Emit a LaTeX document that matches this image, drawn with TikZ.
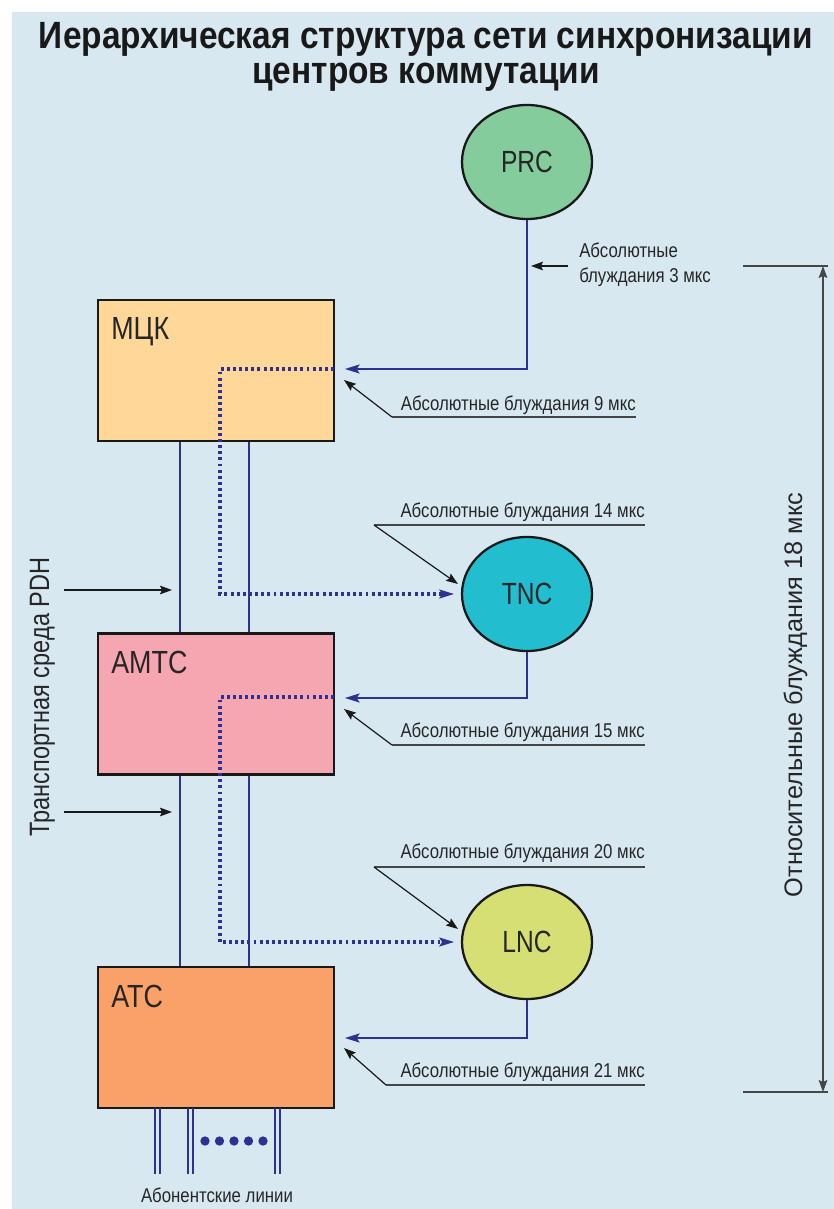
\documentclass[tikz,border=0pt]{standalone}
\usepackage{fontspec}
\setmainfont{Liberation Sans}[FakeStretch=0.84]
\newfontfamily\titlefont{Liberation Sans}[FakeStretch=0.88]
\newfontfamily\boxfont{Liberation Sans}[FakeStretch=0.84]
\newfontfamily\nodefont{Liberation Sans}[FakeStretch=0.80]
\newfontfamily\widefont{Liberation Sans}
\usetikzlibrary{arrows.meta,calc,shapes.geometric}
\definecolor{bgblue}{RGB}{216,232,240}
\definecolor{lineblue}{RGB}{46,49,146}
\definecolor{prcgreen}{RGB}{132,204,156}
\definecolor{tnccyan}{RGB}{34,190,208}
\definecolor{lncyellow}{RGB}{214,223,115}
\definecolor{mckfill}{RGB}{255,216,153}
\definecolor{amtcfill}{RGB}{246,166,176}
\definecolor{atcfill}{RGB}{249,161,104}
\definecolor{leadgray}{RGB}{70,70,70}
\tikzset{
  centerbox/.style={draw=black!90, line width=2.2pt, minimum width=177pt, minimum height=105.75pt, inner sep=0pt},
  syncnode/.style={ellipse, draw=black!90, line width=1.7pt, minimum width=97.5pt, minimum height=85.5pt, inner sep=0pt, font=\nodefont\fontsize{23}{24}\selectfont, text=black!85},
  boxlabel/.style={anchor=base west, inner sep=0pt, font=\boxfont\fontsize{24}{26}\selectfont, text=black!85},
  ann/.style={inner sep=0pt, font=\fontsize{15}{16}\selectfont, text=black!85},
  blueline/.style={draw=lineblue, line width=2.2pt},
  bluearrow/.style={blueline, -{Stealth[length=11pt,width=6.5pt,inset=2pt]}},
  dotline/.style={draw=lineblue, line width=2.3pt, dash pattern=on 2.2pt off 2.4pt, -{Stealth[length=11pt,width=6.5pt,inset=2pt]}},
  blackarrow/.style={draw=black!90, line width=0.9pt, -{Stealth[length=9pt,width=6.5pt,inset=1.5pt]}},
  underl/.style={draw=leadgray, line width=1.2pt},
  subline/.style={draw=lineblue, line width=1.9pt}
}
\begin{document}
\begin{tikzpicture}[x=0.75pt,y=-0.75pt]
\useasboundingbox (0,0) rectangle (834,1209);
\fill[white] (0,0) rectangle (834,1209);
\fill[bgblue] (12,12) rectangle (834,1209);

% title
\node[anchor=north, inner sep=0pt, align=center, font=\titlefont\bfseries\fontsize{28.5}{26.5}\selectfont, text=black!90] (title) at (426,22) {Иерархическая структура сети синхронизации\\центров коммутации};

% nodes
\node[syncnode, fill=prcgreen] (prc) at (527,162) {PRC};
\node[syncnode, fill=tnccyan] (tnc) at (527,594) {TNC};
\node[syncnode, fill=lncyellow] (lnc) at (527,942) {LNC};

\node[centerbox, fill=mckfill] (mck) at (216,370.5) {};
\node[centerbox, fill=amtcfill] (amtc) at (216,704) {};
\node[centerbox, fill=atcfill] (atc) at (216,1037.5) {};
\node[boxlabel] (mckl) at (111,339) {МЦК};
\node[boxlabel] (amtcl) at (111,673) {AMTC};
\node[boxlabel] (atcl) at (111,1007) {ATC};

% helper coordinates
\coordinate (xa) at (180,0);
\coordinate (xb) at (249,0);
\coordinate (xd) at (220,0);
\coordinate (in1) at (334,369);
\coordinate (in2) at (334,698);
\coordinate (in3) at (334,1038);
\coordinate (d2) at (334,697);

% PDH transport lines
\draw[blueline] (mck.south -| xa) -- (amtc.north -| xa);
\draw[blueline] (mck.south -| xb) -- (amtc.north -| xb);
\draw[blueline] (amtc.south -| xa) -- (atc.north -| xa);
\draw[blueline] (amtc.south -| xb) -- (atc.north -| xb);

% dotted sync paths
\draw[dotline, shorten >=5pt] (in1) -- (in1 -| xd) |- (tnc.west);
\draw[dotline, shorten >=5pt] (d2) -- (d2 -| xd) |- (lnc.west);

% blue sync arrows
\draw[bluearrow, shorten >=8pt] (prc.south) |- (in1);
\draw[bluearrow, shorten >=8pt] (tnc.south) |- (in2);
\draw[bluearrow, shorten >=8pt] (lnc.south) |- (in3);

% annotation 3 us
\node[ann, anchor=base west] (t3a) at (579,257) {Абсолютные};
\node[ann, anchor=base west] (t3b) at (579,282) {блуждания 3 мкс};
\coordinate (a3s) at (568,266);
\coordinate (a3e) at (531,266);
\draw[blackarrow] (a3s) -- (a3e);

% annotation 9 us
\node[ann, anchor=base east] (t9) at (636,410) {Абсолютные блуждания 9 мкс};
\coordinate (u9r) at (636,417);
\coordinate (u9l) at (392,417);
\coordinate (a9) at (344,380);
\draw[underl] (u9r) -- (u9l);
\draw[blackarrow] (u9l) -- (a9);

% annotation 14 us
\node[ann, anchor=base east] (t14) at (645,517) {Абсолютные блуждания 14 мкс};
\coordinate (u14r) at (645,525);
\coordinate (u14l) at (374,525);
\coordinate (a14) at (458,584);
\draw[underl] (u14r) -- (u14l);
\draw[blackarrow] (u14l) -- (a14);

% annotation 15 us
\node[ann, anchor=base east] (t15) at (645,737) {Абсолютные блуждания 15 мкс};
\coordinate (u15r) at (645,745);
\coordinate (u15l) at (392,745);
\coordinate (a15) at (344,709);
\draw[underl] (u15r) -- (u15l);
\draw[blackarrow] (u15l) -- (a15);

% annotation 20 us
\node[ann, anchor=base east] (t20) at (645,858) {Абсолютные блуждания 20 мкс};
\coordinate (u20r) at (645,867);
\coordinate (u20l) at (374,867);
\coordinate (a20) at (458,929);
\draw[underl] (u20r) -- (u20l);
\draw[blackarrow] (u20l) -- (a20);

% annotation 21 us
\node[ann, anchor=base east] (t21) at (645,1077) {Абсолютные блуждания 21 мкс};
\coordinate (u21r) at (645,1085);
\coordinate (u21l) at (386,1085);
\coordinate (a21) at (344,1048);
\draw[underl] (u21r) -- (u21l);
\draw[blackarrow] (u21l) -- (a21);

% relative wander bracket
\coordinate (bt) at (823,266);
\coordinate (bb) at (823,1092);
\draw[underl] (743,266) -- (828,266);
\draw[underl] (743,1092) -- (828,1092);
\draw[draw=leadgray, line width=1.2pt, {Stealth[length=9pt,width=6.5pt,inset=1.5pt]}-{Stealth[length=9pt,width=6.5pt,inset=1.5pt]}] (bt) -- (bb);
\node[rotate=90, anchor=base, inner sep=0pt, font=\widefont\fontsize{19}{20}\selectfont, text=black!85] (rel) at (802,695) {Относительные блуждания 18 мкс};

% PDH transport label
\node[rotate=90, anchor=base, inner sep=0pt, font=\fontsize{21}{22}\selectfont, text=black!85] (pdh) at (49,697) {Транспортная среда PDH};
\coordinate (p1s) at (64,590);
\coordinate (p1e) at (172,590);
\coordinate (p2s) at (64,812);
\coordinate (p2e) at (172,812);
\draw[blackarrow] (p1s) -- (p1e);
\draw[blackarrow] (p2s) -- (p2e);

% subscriber lines
\foreach \xx in {155,160,188,193,275,280}{
  \draw[subline] (\xx,1108) -- (\xx,1174);
}
\foreach \xx in {205,219.5,234,248.5,263}{
  \fill[lineblue] (\xx,1141) circle (3.5pt);
}
\node[ann, anchor=base] (subs) at (217,1202) {Абонентские линии};
\end{tikzpicture}
\end{document}
